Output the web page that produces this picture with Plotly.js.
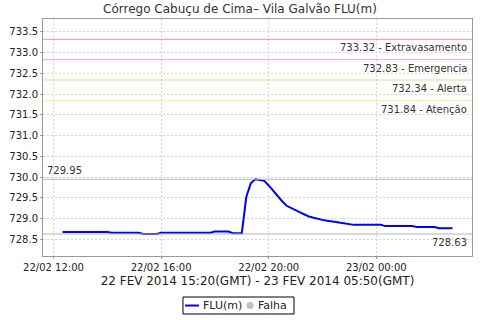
<!DOCTYPE html>
<html>
<head>
<meta charset="utf-8">
<script src="https://cdn.plot.ly/plotly-3.0.1.min.js"></script>
<style>html,body{margin:0;padding:0;background:#fff;}#chart{width:480px;height:320px;}</style>
</head>
<body>
<div id="chart"></div>
<script>
var times = [
 '2014-02-22 12:20','2014-02-22 12:30','2014-02-22 12:40','2014-02-22 12:50',
 '2014-02-22 13:00','2014-02-22 13:10','2014-02-22 13:20','2014-02-22 13:30','2014-02-22 13:40','2014-02-22 13:50',
 '2014-02-22 14:00','2014-02-22 14:10','2014-02-22 14:20','2014-02-22 14:30','2014-02-22 14:40','2014-02-22 14:50',
 '2014-02-22 15:00','2014-02-22 15:10','2014-02-22 15:20','2014-02-22 15:30','2014-02-22 15:40','2014-02-22 15:50',
 '2014-02-22 16:00','2014-02-22 16:10','2014-02-22 16:20','2014-02-22 16:30','2014-02-22 16:40','2014-02-22 16:50',
 '2014-02-22 17:00','2014-02-22 17:10','2014-02-22 17:20','2014-02-22 17:30','2014-02-22 17:40','2014-02-22 17:50',
 '2014-02-22 18:00','2014-02-22 18:10','2014-02-22 18:20','2014-02-22 18:30','2014-02-22 18:40','2014-02-22 18:50',
 '2014-02-22 19:00','2014-02-22 19:10','2014-02-22 19:20','2014-02-22 19:30','2014-02-22 19:40','2014-02-22 19:50',
 '2014-02-22 20:00','2014-02-22 20:10','2014-02-22 20:20','2014-02-22 20:30','2014-02-22 20:40','2014-02-22 20:50',
 '2014-02-22 21:00','2014-02-22 21:10','2014-02-22 21:20','2014-02-22 21:30','2014-02-22 21:40','2014-02-22 21:50',
 '2014-02-22 22:00','2014-02-22 22:10','2014-02-22 22:20','2014-02-22 22:30','2014-02-22 22:40','2014-02-22 22:50',
 '2014-02-22 23:00','2014-02-22 23:10','2014-02-22 23:20','2014-02-22 23:30','2014-02-22 23:40','2014-02-22 23:50',
 '2014-02-23 00:00','2014-02-23 00:10','2014-02-23 00:20','2014-02-23 00:30','2014-02-23 00:40','2014-02-23 00:50',
 '2014-02-23 01:00','2014-02-23 01:10','2014-02-23 01:20','2014-02-23 01:30','2014-02-23 01:40','2014-02-23 01:50',
 '2014-02-23 02:00','2014-02-23 02:10','2014-02-23 02:20','2014-02-23 02:30','2014-02-23 02:40','2014-02-23 02:50'
];
var levels = [
 728.68,728.68,728.68,728.68,728.68,728.68,728.68,728.68,728.68,728.68,728.68,
 728.66,728.66,728.66,728.66,728.66,728.66,728.66,
 728.63,728.63,728.63,728.63,
 728.66,728.66,728.66,728.66,728.66,728.66,728.66,728.66,728.66,728.66,728.66,728.66,
 728.69,728.69,728.69,728.69,
 728.65,728.65,728.65,
 729.52,729.85,729.95,729.93,729.91,729.80,729.67,729.55,729.42,729.31,729.25,729.20,
 729.15,729.10,729.05,729.02,728.99,728.97,728.95,728.94,728.92,728.90,728.88,728.86,
 728.85,728.85,728.85,728.85,728.85,728.85,728.85,
 728.82,728.82,728.82,728.82,728.82,728.82,728.82,
 728.80,728.80,728.80,728.80,728.80,
 728.77,728.77,728.77,728.77
];
var thresholdValues = [733.32, 732.83, 732.34, 731.84];
var thresholdNames = ['Extravasamento', 'Emergencia', 'Alerta', 'Atenção'];
var thresholdColors = ['#ec9a9a', '#ee99ee', '#ffcc88', '#ffee88'];
var maxValue = 729.95;
var minValue = 728.63;
var xTickVals = ['2014-02-22 12:00', '2014-02-22 16:00', '2014-02-22 20:00', '2014-02-23 00:00'];
var xTickText = ['22/02 12:00', '22/02 16:00', '22/02 20:00', '23/02 00:00'];
var yTickVals = [728.5, 729.0, 729.5, 730.0, 730.5, 731.0, 731.5, 732.0, 732.5, 733.0, 733.5];
var seriesNames = ['FLU(m)', 'Falha'];
var seriesColors = ['#0000ff', '#c0c0c0'];

var font = 'DejaVu Sans, sans-serif';
var shapes = [];
var annotations = [];
for (var i = 0; i < thresholdValues.length; i++) {
  shapes.push({type:'line', xref:'paper', x0:0, x1:1, yref:'y', y0:thresholdValues[i], y1:thresholdValues[i],
    line:{color:thresholdColors[i], width:1}});
  annotations.push({xref:'paper', x:1, xanchor:'right', xshift:-3, yref:'y', y:thresholdValues[i], yanchor:'top', yshift:-1,
    text: thresholdValues[i].toFixed(2) + ' - ' + thresholdNames[i], showarrow:false,
    font:{family:font, size:10, color:'#333'}});
}
[maxValue, minValue].forEach(function(v){
  shapes.push({type:'line', xref:'paper', x0:0, x1:1, yref:'y', y0:v, y1:v, line:{color:'#b4b4b4', width:1}});
});
annotations.push({xref:'paper', x:0, xanchor:'left', xshift:2, yref:'y', y:maxValue, yanchor:'bottom', yshift:1,
  text: maxValue.toFixed(2), showarrow:false, font:{family:font, size:10, color:'#333'}});
annotations.push({xref:'paper', x:1, xanchor:'right', xshift:-3, yref:'y', y:minValue, yanchor:'top', yshift:-1,
  text: minValue.toFixed(2), showarrow:false, font:{family:font, size:10, color:'#333'}});

// compact legend box below the plot (paper coordinates)
var legY = -0.209;
shapes.push({type:'rect', xref:'paper', yref:'paper', x0:0.3263, x1:0.5851, y0:-0.2447, y1:-0.173,
  line:{color:'#000', width:1}, fillcolor:'#fff'});
shapes.push({type:'line', xref:'paper', yref:'paper', x0:0.331, x1:0.3636, y0:legY, y1:legY,
  line:{color:seriesColors[0], width:2}});
shapes.push({type:'circle', xref:'paper', yref:'paper', xsizemode:'pixel', ysizemode:'pixel',
  xanchor:0.4825, yanchor:legY, x0:-3.5, x1:3.5, y0:-3.5, y1:3.5,
  fillcolor:seriesColors[1], line:{color:seriesColors[1], width:0}});
annotations.push({xref:'paper', yref:'paper', x:0.369, xanchor:'left', y:legY, yanchor:'middle', text:seriesNames[0],
  showarrow:false, font:{family:font, size:11, color:'#222'}});
annotations.push({xref:'paper', yref:'paper', x:0.4965, xanchor:'left', y:legY, yanchor:'middle', text:seriesNames[1],
  showarrow:false, font:{family:font, size:11, color:'#222'}});

var traces = [
  {x: times, y: levels, type:'scatter', mode:'lines', name:seriesNames[0], line:{color:seriesColors[0], width:2}, showlegend:false},
  {x: [null], y: [null], type:'scatter', mode:'markers', name:seriesNames[1], marker:{color:seriesColors[1], size:8}, showlegend:false}
];

var layout = {
  width:480, height:320,
  margin:{l:43, r:8, t:19, b:64, autoexpand:false},
  paper_bgcolor:'#fff', plot_bgcolor:'#fff',
  font:{family:font, color:'#333'},
  title:{text:'Córrego Cabuçu de Cima– Vila Galvão FLU(m)', font:{family:font, size:12, color:'#333'},
    x:0.5, xanchor:'center', yref:'container', y:0.972, yanchor:'middle'},
  xaxis:{type:'date', range:['2014-02-22 11:36:30', '2014-02-23 03:33:30'], automargin:false,
    tickvals:xTickVals, ticktext:xTickText, tickfont:{family:font, size:10, color:'#222'},
    showgrid:true, gridcolor:'#d4d4d4', griddash:'2px,2px', zeroline:false,
    showline:true, linecolor:'#999', mirror:true, ticks:'outside', ticklen:2, tickcolor:'#999',
    title:{text:'22 FEV 2014 15:20(GMT) - 23 FEV 2014 05:50(GMT)', font:{family:font, size:12, color:'#222'}, standoff:4}},
  yaxis:{range:[728.1, 733.81], automargin:false, tickvals:yTickVals, tickformat:'.1f', tickfont:{family:font, size:10, color:'#222'},
    showgrid:true, gridcolor:'#d4d4d4', griddash:'2px,2px', zeroline:false,
    showline:true, linecolor:'#999', mirror:true, ticks:'outside', ticklen:2, tickcolor:'#999'},
  showlegend:false,
  shapes:shapes, annotations:annotations
};
Plotly.newPlot('chart', traces, layout, {staticPlot:true, displayModeBar:false});
</script>
</body>
</html>
